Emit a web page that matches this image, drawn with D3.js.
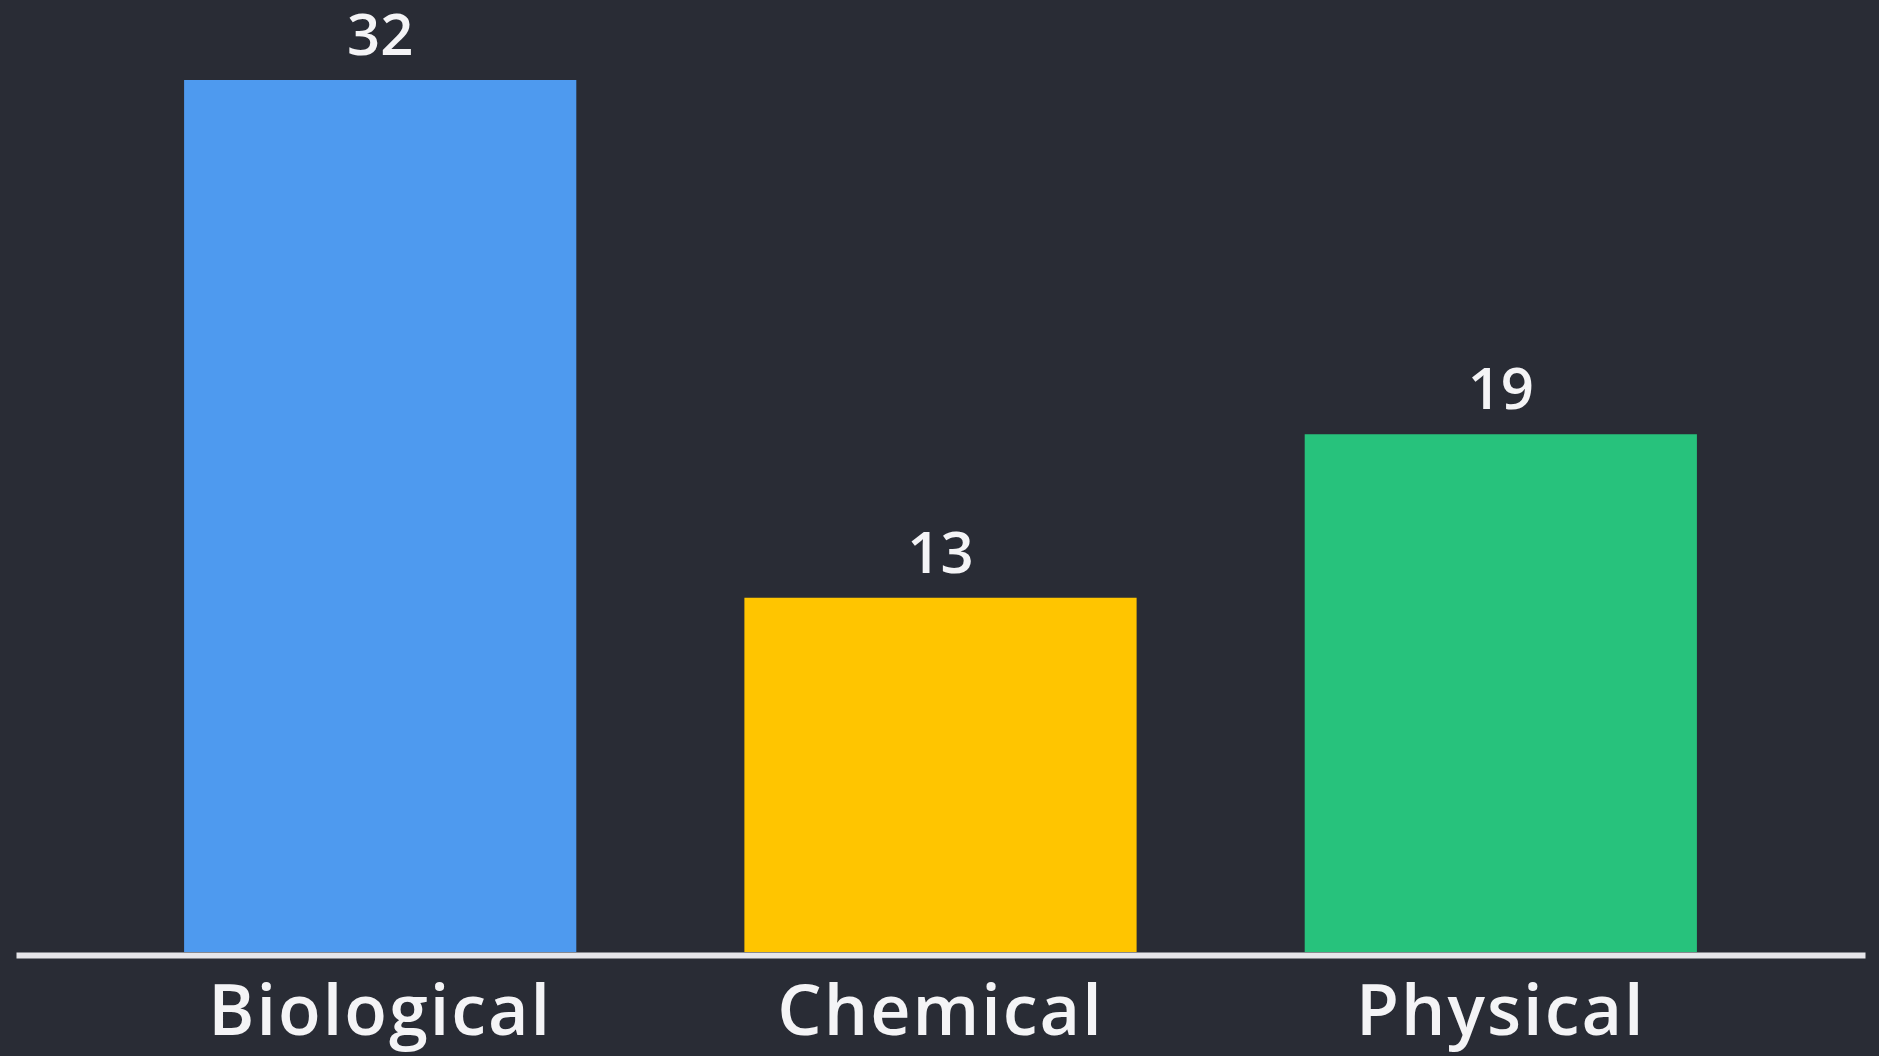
<!DOCTYPE html>
<html><head><meta charset="utf-8">
<script src="https://cdn.jsdelivr.net/npm/d3@7"></script>
<style>
html,body{margin:0;padding:0;background:#292c35;}
svg{display:block;}
</style></head>
<body>
<svg id="chart" width="1879" height="1056"></svg>
<script>
const categories = ["Biological", "Chemical", "Physical"];
const values = [32, 13, 19];
const colors = ["#4e9aef", "#ffc500", "#27c27c"];

const W = 1879, H = 1056;
const svg = d3.select("#chart");
svg.append("rect").attr("width", W).attr("height", H).attr("fill", "#292c35");

const x = d3.scaleBand().domain(categories).range([16, 1865]).paddingInner(0.3).paddingOuter(0.3);
const y = d3.scaleLinear().domain([0, 32]).range([952, 80]);

svg.selectAll("rect.bar").data(categories).join("rect")
  .attr("class", "bar")
  .attr("x", d => x(d))
  .attr("width", x.bandwidth())
  .attr("y", (d, i) => y(values[i]))
  .attr("height", (d, i) => y(0) - y(values[i]))
  .attr("fill", (d, i) => colors[i]);

svg.selectAll("text.val").data(categories).join("text")
  .attr("class", "val")
  .attr("x", d => x(d) + x.bandwidth() / 2)
  .attr("y", (d, i) => y(values[i]) - 25)
  .attr("text-anchor", "middle")
  .attr("font-family", "'Open Sans', sans-serif")
  .attr("font-weight", 600)
  .attr("font-size", 58)
  .attr("fill", "#f4f4f6")
  .text((d, i) => values[i]);

const axis = d3.axisBottom(x).tickSize(0).tickPadding(30);
const gx = svg.append("g").attr("transform", `translate(0,${y(0) + 3})`).call(axis);
gx.select(".domain").attr("stroke", "#e6e6ea").attr("stroke-width", 6);
gx.selectAll(".tick text")
  .attr("font-family", "'Open Sans', sans-serif")
  .attr("font-weight", 600)
  .attr("font-size", 70)
  .attr("letter-spacing", 2)
  .attr("fill", "#f4f4f6");
</script>
</body></html>
